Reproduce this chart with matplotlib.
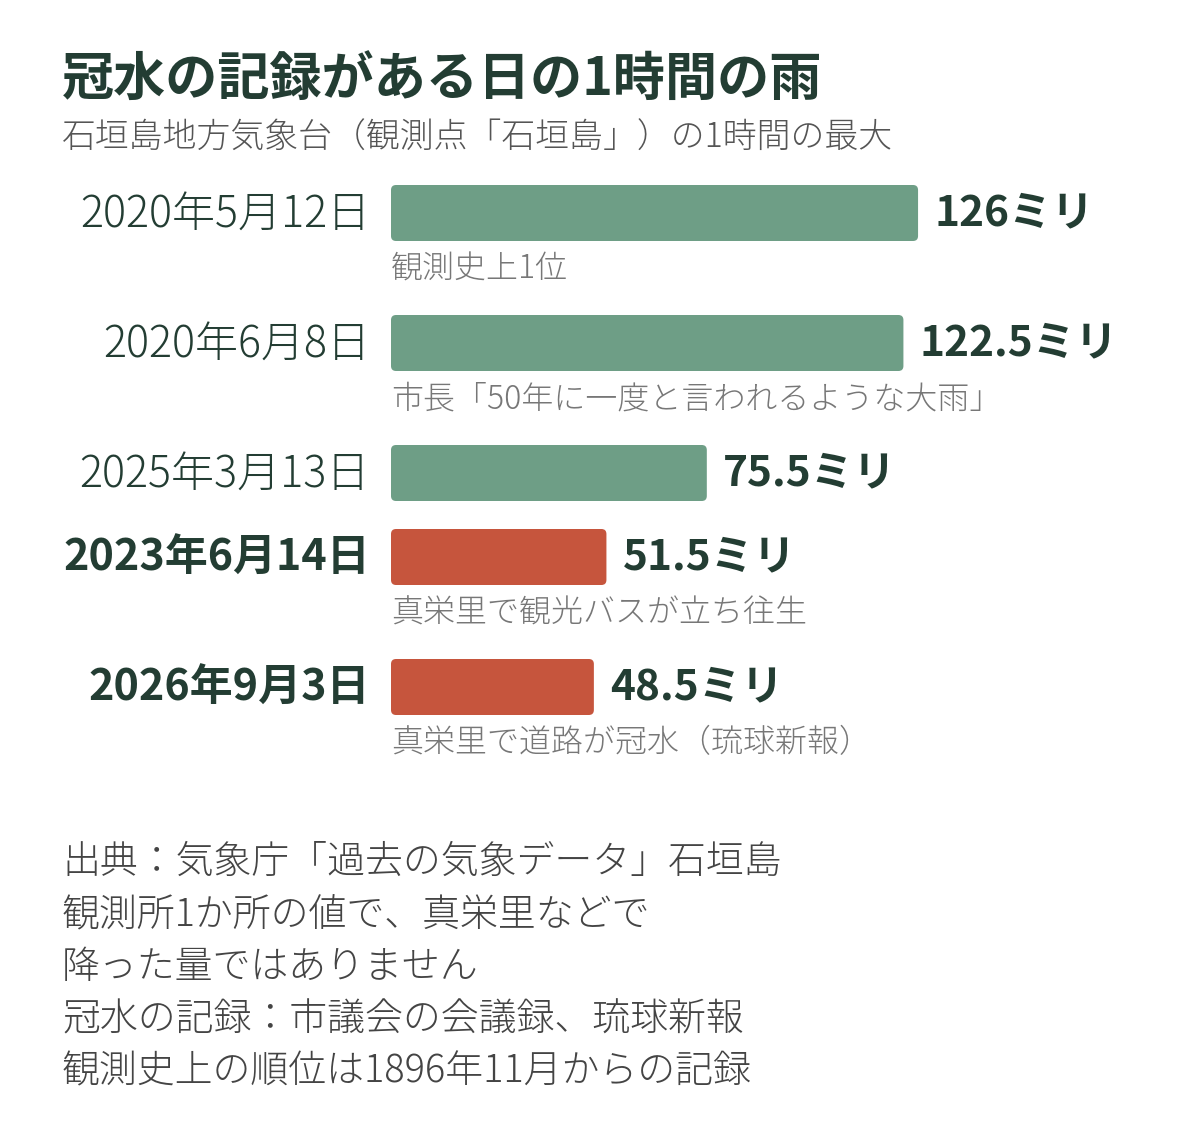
import matplotlib
matplotlib.use("Agg")
import matplotlib.pyplot as plt
from matplotlib.patches import FancyBboxPatch

plt.rcParams['font.family'] = ['Noto Sans CJK JP', 'DejaVu Sans']

# data
dates = ['2020年5月12日', '2020年6月8日', '2025年3月13日', '2023年6月14日', '2026年9月3日']
rain_mm = [126, 122.5, 75.5, 51.5, 48.5]
value_labels = ['126ミリ', '122.5ミリ', '75.5ミリ', '51.5ミリ', '48.5ミリ']
notes = ['観測史上1位', '市長「50年に一度と言われるような大雨」', '', '真栄里で観光バスが立ち往生',
         '真栄里で道路が冠水（琉球新報）']
flooded = [False, False, False, True, True]

title = '冠水の記録がある日の1時間の雨'
subtitle = '石垣島地方気象台（観測点「石垣島」）の1時間の最大'
footer = ['出典：気象庁「過去の気象データ」石垣島',
          '観測所1か所の値で、真栄里などで',
          '降った量ではありません',
          '冠水の記録：市議会の会議録、琉球新報',
          '観測史上の順位は1896年11月からの記録']

GREEN = '#6e9e86'
RED = '#c6553d'
DARK = '#233d33'
GRAY = '#555555'
NOTE = '#777777'

W, H = 1200, 1128
fig = plt.figure(figsize=(W / 100, H / 100), dpi=100)
fig.patch.set_facecolor('white')

# bars area: starts at x=391px, 4.18 px per mm
px_per_mm = 4.183
x0 = 391
ax = fig.add_axes([x0 / W, 0, (W - x0) / W, 1])
ax.set_xlim(0, (W - x0) / px_per_mm)
ax.set_ylim(H, 0)
ax.axis('off')

bar_y = [213, 343, 473, 557, 687]
bar_h = 56
colors = [RED if f else GREEN for f in flooded]
bars = ax.barh(bar_y, rain_mm, height=bar_h, color=colors)

# swap plain bars for rounded ones of the same size
for b, c in zip(bars, colors):
    bx, by, bw, bh = b.get_x(), b.get_y(), b.get_width(), b.get_height()
    b.remove()
    ax.add_patch(FancyBboxPatch((bx, by), bw, bh,
                                boxstyle='round,pad=0,rounding_size=1.2',
                                mutation_aspect=px_per_mm, fc=c, ec='none'))

lab_x = -21 / px_per_mm
for y, d, v, lab, n, f in zip(bar_y, dates, rain_mm, value_labels, notes, flooded):
    ax.text(lab_x, y + 1, d, ha='right', va='center', fontsize=31,
            color=DARK, fontweight='bold' if f else 'light')
    ax.text(v + 16 / px_per_mm, y, lab, ha='left', va='center', fontsize=30.5,
            color=DARK, fontweight='bold')
    if n:
        ax.text(0, y + 56, n, ha='left', va='center', fontsize=23,
                color=NOTE, fontweight='light')

fig.text(62 / W, 1 - 80 / H, title, ha='left', va='center', fontsize=37.5,
         fontweight='bold', color=DARK)
fig.text(62 / W, 1 - 138 / H, subtitle, ha='left', va='center', fontsize=24.4,
         fontweight='light', color=GRAY)

for i, line in enumerate(footer):
    fig.text(62 / W, 1 - (862 + i * 52.5) / H, line, ha='left', va='center',
             fontsize=27.3, fontweight='light', color='#444444')

fig.savefig('out.png', dpi=100, facecolor='white')
